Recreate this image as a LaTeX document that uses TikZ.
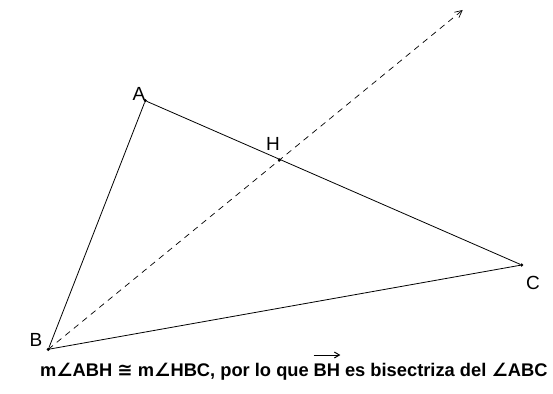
\documentclass[tikz,border=0pt]{standalone}
\usepackage{fontspec}
\setmainfont{Liberation Sans}
\newfontfamily\symfont{DejaVu Sans}
\usetikzlibrary{arrows.meta}
\begin{document}
\begin{tikzpicture}[x=1pt,y=-1pt,
  seg/.style={line width=0.8pt},
  ray/.style={line width=0.7pt,dashed,dash pattern=on 6pt off 5pt,-{Straight Barb[length=7pt,width=7pt]}},
  pt/.style={circle,fill,inner sep=0pt,minimum size=3.5pt},
  lbl/.style={font=\fontsize{19}{19}\selectfont},
  captext/.style={font=\bfseries\fontsize{18.3}{19}\selectfont,inner sep=0pt}]
\useasboundingbox (0,0) rectangle (553,393);
\node[pt] (A) at (145.3,100.7) {};
\node[pt] (B) at (48.3,349.3) {};
\node[pt] (C) at (521.7,265) {};
\node[pt] (H) at (279.3,160) {};
\coordinate (T) at (462.7,10);
\draw[seg] (A) -- (B) -- (C) -- (A);
\draw[ray] (B.center) -- (T);
\node[lbl] (la) at (139,94) {A};
\node[lbl] (lh) at (273,144) {H};
\node[lbl] (lc) at (533,283) {C};
\node[lbl] (lb) at (36,340) {B};
\node[captext,anchor=base east] (c1) at (309,376) {m{\symfont∠}ABH {\symfont≅} m{\symfont∠}HBC, por lo que};
\node[captext,anchor=base west] (bh) at ([xshift=4.5pt]c1.base east) {BH};
\node[captext,anchor=base west] (c2) at ([xshift=4.5pt]bh.base east) {es bisectriza del {\symfont∠}ABC};
\draw[line width=1pt,-{Straight Barb[length=5pt,width=6pt]}] ([yshift=21pt]bh.base west) -- ([yshift=21pt]bh.base east);
\end{tikzpicture}
\end{document}
